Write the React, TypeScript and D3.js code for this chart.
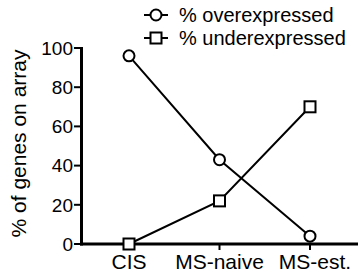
import React from "react";
import * as d3 from "d3";

const categories = ["CIS", "MS-naive", "MS-est."];
const overexpressed = [96, 43, 4];
const underexpressed = [0, 22, 70];
const yTicks = [0, 20, 40, 60, 80, 100];
const seriesNames = ["% overexpressed", "% underexpressed"];

export default function App() {
  const W = 358, H = 274;
  const x = d3.scalePoint<string>().domain(categories).range([129, 310]);
  const y = d3.scaleLinear().domain([0, 100]).range([244, 48]);
  const line = d3.line<number>().x((_, i) => x(categories[i])!).y((d) => y(d));
  const font = "Liberation Sans, Arial, sans-serif";
  const circle = (cx: number, cy: number, k: string) => (
    <circle key={k} cx={cx} cy={cy} r={5.5} fill="white" stroke="black" strokeWidth={2} />
  );
  const square = (cx: number, cy: number, k: string) => (
    <rect key={k} x={cx - 5.5} y={cy - 5.5} width={11} height={11} fill="white" stroke="black" strokeWidth={2} />
  );
  return (
    <svg width={W} height={H} style={{ position: "absolute", left: 0, top: 0 }} fontFamily={font}>
      <rect width={W} height={H} fill="white" />
      {/* y axis */}
      <line x1={81.5} x2={81.5} y1={y(100) - 1} y2={y(0) + 1.5} stroke="black" strokeWidth={3} />
      {yTicks.map((t) => (
        <g key={t}>
          <line x1={74} x2={81} y1={y(t)} y2={y(t)} stroke="black" strokeWidth={2} />
          <text x={73} y={y(t)} dy="0.36em" textAnchor="end" fontSize={19}>{t}</text>
        </g>
      ))}
      {/* x axis */}
      <line x1={80} x2={358} y1={y(0)} y2={y(0)} stroke="black" strokeWidth={3} />
      {categories.map((c, i) => (
        <g key={c}>
          <line x1={x(c)} x2={x(c)} y1={y(0)} y2={y(0) + 6} stroke="black" strokeWidth={2} />
          <text x={x(c)} dx={i === categories.length - 1 ? 5 : 0} y={268.5} textAnchor="middle" fontSize={21}>{c}</text>
        </g>
      ))}
      <text transform={`translate(26,143.5) rotate(-90)`} textAnchor="middle" fontSize={21}>% of genes on array</text>
      {/* lines */}
      <path d={line(overexpressed)!} fill="none" stroke="black" strokeWidth={2} />
      <path d={line(underexpressed)!} fill="none" stroke="black" strokeWidth={2} />
      {overexpressed.map((v, i) => circle(x(categories[i])!, y(v), "o" + i))}
      {underexpressed.map((v, i) => square(x(categories[i])!, y(v), "u" + i))}
      {/* legend */}
      {seriesNames.map((s, i) => {
        const ly = 15 + i * 23;
        return (
          <g key={s}>
            <line x1={144} x2={168} y1={ly} y2={ly} stroke="black" strokeWidth={2} />
            {i === 0 ? circle(156, ly, "lc") : square(156, ly, "ls")}
            <text x={179} y={ly} dy="0.36em" fontSize={20}>{s}</text>
          </g>
        );
      })}
    </svg>
  );
}
